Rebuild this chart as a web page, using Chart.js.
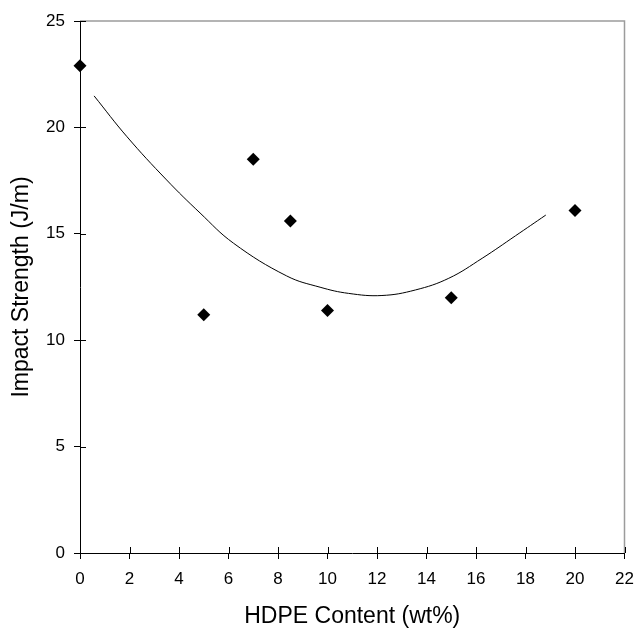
<!DOCTYPE html>
<html>
<head>
<meta charset="utf-8">
<script src="https://cdn.jsdelivr.net/npm/chart.js@4"></script>
<style>
	body { margin: 0; background: #fff; }
	#wrap { width: 635px; height: 628px; }
</style>
</head>
<body>
<div id="wrap"><canvas id="grafico" width="635" height="628"></canvas></div>
<script>
// measured points
var hdpe = [0, 5, 7, 8.5, 10, 15, 20];
var impacto = [22.9, 11.2, 18.5, 15.6, 11.4, 12.0, 16.1];

// trend line
var tendX = [0.57, 1.9, 3.5, 4.85, 6.2, 8.35, 9.7, 10.85, 12.2, 13.55, 14.9, 16.25, 17.6, 18.82];
var tendY = [21.48, 19.56, 17.53, 15.98, 14.56, 13.02, 12.49, 12.2, 12.1, 12.36, 12.91, 13.85, 14.91, 15.88];

var fuente = "'Liberation Sans', Arial, sans-serif";

// border top/right in gray and small inner ticks
const marco = {
	id: 'marco',
	afterDraw(chart) {
		const ctx = chart.ctx;
		const a = chart.chartArea;
		ctx.save();
		ctx.strokeStyle = '#9c9c9c';
		ctx.lineWidth = 1.5;
		ctx.beginPath();
		ctx.moveTo(a.left, a.top);
		ctx.lineTo(a.right, a.top);
		ctx.lineTo(a.right, a.bottom);
		ctx.stroke();

		ctx.strokeStyle = '#000';
		ctx.lineWidth = 1;
		ctx.beginPath();
		chart.scales.x.ticks.forEach(t => {
			const px = Math.round(chart.scales.x.getPixelForValue(t.value)) + 0.5;
			ctx.moveTo(px, a.bottom);
			ctx.lineTo(px, a.bottom - 6);
		});
		chart.scales.y.ticks.forEach(t => {
			const py = Math.round(chart.scales.y.getPixelForValue(t.value)) + 0.5;
			ctx.moveTo(a.left, py);
			ctx.lineTo(a.left + 6, py);
		});
		ctx.stroke();
		ctx.restore();
	}
};

const datos = {
	datasets: [{
		type: 'scatter',
		label: 'Impact Strength',
		data: hdpe.map((x, i) => ({x: x, y: impacto[i]})),
		pointStyle: 'rectRot',
		pointRadius: 6.5,
		pointBackgroundColor: '#000',
		pointBorderColor: '#000',
		pointBorderWidth: 0,
		clip: false
	}, {
		type: 'line',
		label: 'Trend',
		data: tendX.map((x, i) => ({x: x, y: tendY[i]})),
		borderColor: '#000',
		borderWidth: 1,
		pointRadius: 0,
		tension: 0.4,
		fill: false
	}]
};

const config = {
	type: 'scatter',
	data: datos,
	options: {
		responsive: false,
		animation: false,
		layout: { padding: { top: 21, right: 0, left: 0, bottom: 0 } },
		plugins: {
			legend: { display: false },
			tooltip: { enabled: false }
		},
		scales: {
			x: {
				type: 'linear',
				min: 0,
				max: 22,
				afterFit(s) {
					s.height = 75;
					s.paddingLeft = 0;
					s.paddingRight = 10.5;
				},
				ticks: { stepSize: 2, color: '#000', padding: 10, font: { family: fuente, size: 17 } },
				grid: { drawOnChartArea: false, tickLength: 6, color: '#000' },
				border: { color: '#000', width: 1 },
				title: {
					display: true,
					text: 'HDPE Content (wt%)',
					color: '#000',
					padding: { top: 0, bottom: 0 },
					font: { family: fuente, size: 23, weight: 'normal', lineHeight: 1.0 }
				}
			},
			y: {
				min: 0,
				max: 25,
				afterFit(s) { s.width = 80; },
				ticks: { stepSize: 5, color: '#000', padding: 9, font: { family: fuente, size: 17 } },
				grid: { drawOnChartArea: false, tickLength: 6, color: '#000' },
				border: { color: '#000', width: 1 },
				title: {
					display: true,
					text: 'Impact Strength (J/m)',
					color: '#000',
					padding: { top: 10, bottom: 0 },
					font: { family: fuente, size: 23, weight: 'normal', lineHeight: 1.0 }
				}
			}
		}
	},
	plugins: [marco]
};

var miGrafico = new Chart(document.getElementById('grafico'), config);
</script>
</body>
</html>
